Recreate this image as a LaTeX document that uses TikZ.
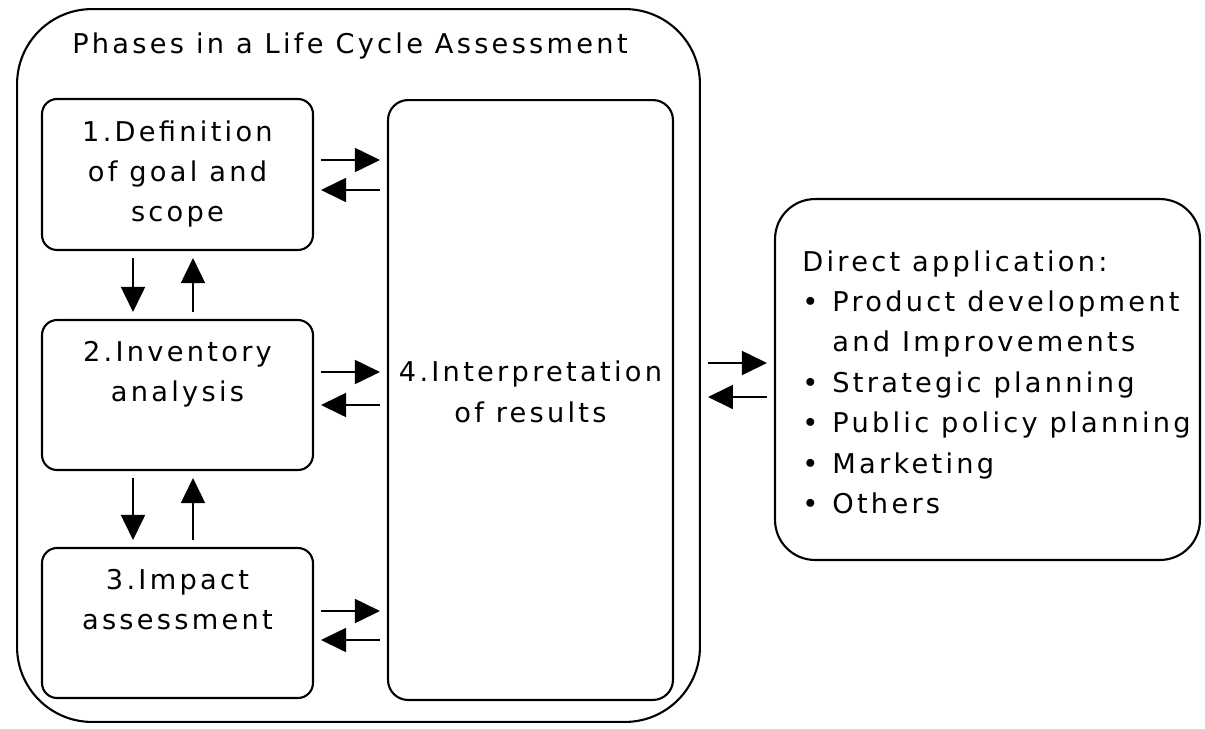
\documentclass[tikz,border=0pt]{standalone}
\usepackage{fontspec}
\setmainfont{DejaVu Sans}[LetterSpace=12]
\usetikzlibrary{positioning,arrows.meta}

\tikzset{
  box/.style={draw, line width=1.2pt, rounded corners=0.3cm, inner sep=0pt},
  boxtext/.style={inner sep=0pt, align=center, font=\fontsize{15.5}{23}\selectfont},
  flow/.style={line width=1pt, -{Triangle[length=0.5cm, width=0.48cm]},
    shorten <=0.14cm, shorten >=0.14cm},
}

\begin{document}
\begin{tikzpicture}[x=0.02cm, y=-0.02cm]
		%%%%% START %%%%%
		\useasboundingbox (0,0) rectangle (1205,728);

		\node[box, rounded corners=1.5cm, minimum width=13.66cm, minimum height=14.26cm] (lca) at (358.5,365.5) {};
		\node[boxtext] (title) at (350,46) {Phases in a Life Cycle Assessment};

		\node[box, minimum width=5.42cm, minimum height=3.02cm] (def) at (177.5,174.5) {};
		\node[box, minimum width=5.42cm, minimum height=3.0cm] (inv) at (177.5,395) {};
		\node[box, minimum width=5.42cm, minimum height=3.0cm] (imp) at (177.5,623) {};
		\node[box, rounded corners=0.4cm, minimum width=5.7cm, minimum height=12cm] (interp) at (530.5,400) {};

		\node[boxtext, below=0.44cm of def.north] (deftext) {1.Definition\\of goal and\\scope};
		\node[boxtext, below=0.44cm of inv.north] (invtext) {2.Inventory\\analysis};
		\node[boxtext, below=0.44cm of imp.north] (imptext) {3.Impact\\assessment};
		\node[boxtext] (interptext) at (530.5,392) {4.Interpretation\\of results};

		\node[box, rounded corners=0.8cm, minimum width=8.5cm, minimum height=7.22cm] (apps) at (987.5,379.5) {};
		\node[boxtext, align=left, anchor=north west] (appstext) at (802,250)
			{Direct application:\\
			 \makebox[0.6cm][l]{•}Product development\\
			 \makebox[0.6cm][l]{}and Improvements\\
			 \makebox[0.6cm][l]{•}Strategic planning\\
			 \makebox[0.6cm][l]{•}Public policy planning\\
			 \makebox[0.6cm][l]{•}Marketing\\
			 \makebox[0.6cm][l]{•}Others};

		% phases <-> interpretation
		\foreach \ph/\up/\dn in {def/0.29cm/-0.31cm, inv/0.46cm/-0.2cm, imp/0.24cm/-0.34cm} {
			\draw[flow] ([yshift=\up]\ph.east) coordinate (a) -- (a -| interp.west);
			\draw[flow] ([yshift=\dn]\ph.east -| interp.west) coordinate (b) -- (b -| \ph.east);
		}

		% between the phases
		\draw[flow] ([xshift=-0.89cm]def.south) coordinate (c) -- (c |- inv.north);
		\draw[flow] ([xshift=0.31cm]inv.north) coordinate (c) -- (c |- def.south);
		\draw[flow] ([xshift=-0.89cm]inv.south) coordinate (c) -- (c |- imp.north);
		\draw[flow] ([xshift=0.31cm]imp.north) coordinate (c) -- (c |- inv.south);

		% to the applications
		\draw[flow] ([yshift=0.33cm]apps.west -| lca.east) coordinate (d) -- (d -| apps.west);
		\draw[flow] ([yshift=-0.35cm]apps.west) coordinate (d) -- (d -| lca.east);
		%%%%% END %%%%%
\end{tikzpicture}
\end{document}
